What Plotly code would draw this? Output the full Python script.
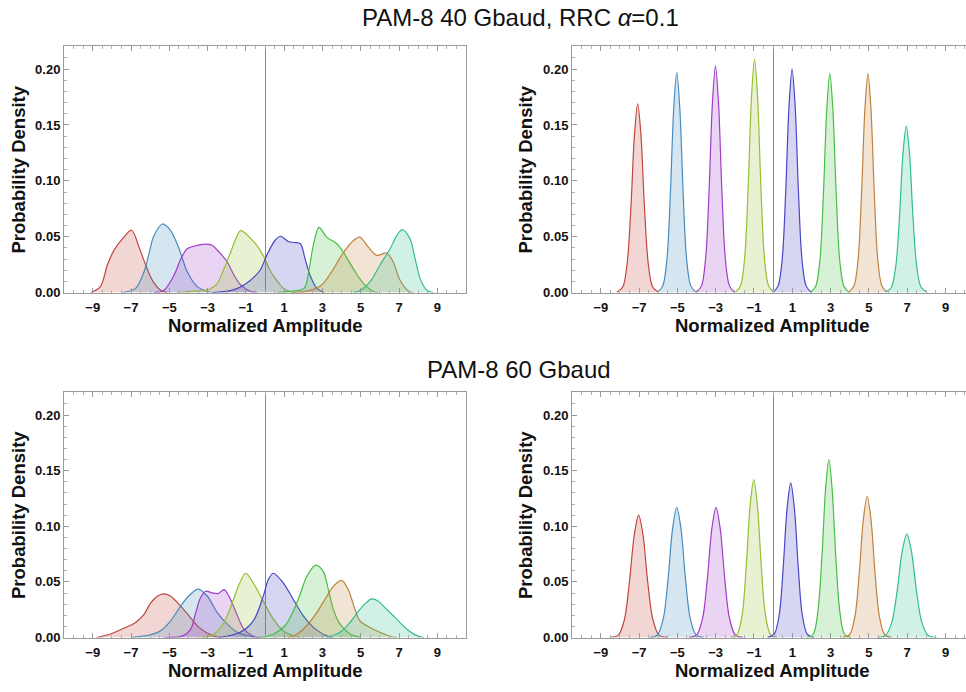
import plotly.graph_objects as go

# ---------------- data ----------------
levels = ["-7", "-5", "-3", "-1", "1", "3", "5", "7"]
colors = ["#BE463C", "#468CBE", "#A03CC8", "#96BE32", "#4646C8", "#46BE46", "#BE823C", "#32BE8C"]

x_tick_vals = [-9, -7, -5, -3, -1, 1, 3, 5, 7, 9]
x_tick_text = ["−9", "−7", "−5", "−3", "−1", "1", "3", "5", "7", "9"]
y_tick_vals = [0.0, 0.05, 0.10, 0.15, 0.20]
y_tick_text = ["0.00", "0.05", "0.10", "0.15", "0.20"]

titles = ["PAM-8 40 Gbaud, RRC <i>α</i>=0.1", "PAM-8 60 Gbaud"]
x_title = "Normalized Amplitude"
y_title = "Probability Density"

# --- top-left panel (40 Gbaud, before equalization) ---
tl_red_x = [-9.1, -8.6, -8.24, -7.89, -7.45, -6.97, -6.58, -6.23, -5.89, -5.45, -5.1]
tl_red_y = [0, 0.0053, 0.0245, 0.0378, 0.048, 0.0558, 0.0407, 0.0245, 0.0112, 0.002, 0]
tl_blue_x = [-7.45, -6.76, -6.32, -6.06, -5.8, -5.35, -4.93, -4.49, -4.06, -3.54, -3.0, -2.6]
tl_blue_y = [0, 0.0038, 0.0186, 0.0348, 0.051, 0.0614, 0.0555, 0.0392, 0.0186, 0.0053, 0.001, 0]
tl_purple_x = [-5.8, -5.28, -4.75, -4.4, -4.06, -3.54, -3.01, -2.75, -2.4, -1.97, -1.62, -1.27, -0.75, -0.4]
tl_purple_y = [0, 0.002, 0.0156, 0.030, 0.0392, 0.0422, 0.0434, 0.0422, 0.0363, 0.0274, 0.0156, 0.0068, 0.001, 0]
tl_olive_x = [-4.6, -3.6, -2.9, -2.5, -2.14, -1.79, -1.53, -1.27, -0.61, -0.26, 0.0, 0.26, 0.61, 0.95, 1.3, 1.6]
tl_olive_y = [0, 0.0015, 0.003, 0.008, 0.0215, 0.0363, 0.048, 0.0555, 0.046, 0.038, 0.030, 0.020, 0.011, 0.004, 0.001, 0]
tl_indigo_x = [-2.7, -1.65, -0.96, -0.26, 0.09, 0.52, 0.82, 1.22, 1.55, 1.85, 2.09, 2.35, 2.7, 3.1]
tl_indigo_y = [0, 0.0024, 0.0083, 0.020, 0.0333, 0.0466, 0.0504, 0.0457, 0.0448, 0.0437, 0.0304, 0.0156, 0.004, 0]
tl_green_x = [0.6, 1.5, 2.05, 2.31, 2.52, 2.82, 3.22, 3.75, 4.09, 4.61, 5.14, 5.66, 5.9]
tl_green_y = [0, 0.0015, 0.004, 0.0215, 0.042, 0.0584, 0.0496, 0.0437, 0.0363, 0.0215, 0.0083, 0.001, 0]
tl_brown_x = [1.4, 2.35, 2.96, 3.48, 4.0, 4.53, 4.94, 5.4, 5.84, 6.36, 6.7, 7.05, 7.49, 7.75]
tl_brown_y = [0, 0.002, 0.0068, 0.0186, 0.0333, 0.0451, 0.0496, 0.0407, 0.0333, 0.0354, 0.0274, 0.0112, 0.0015, 0]
tl_teal_x = [4.6, 5.0, 5.49, 6.0, 6.53, 6.88, 7.17, 7.58, 7.84, 8.1, 8.45, 8.8]
tl_teal_y = [0, 0.002, 0.0097, 0.0245, 0.039, 0.051, 0.0563, 0.048, 0.0304, 0.0127, 0.0021, 0]

# --- top-right panel (40 Gbaud, after equalization) ---
tr_red_x = [-8.16, -7.85, -7.62, -7.42, -7.24, -7.07, -6.90, -6.72, -6.52, -6.29, -5.98]
tr_red_y = [0.0003, 0.005, 0.0262, 0.0774, 0.1411, 0.169, 0.1411, 0.0774, 0.0262, 0.005, 0.0003]
tr_blue_x = [-6.03, -5.76, -5.54, -5.36, -5.19, -5.03, -4.87, -4.70, -4.52, -4.30, -4.03]
tr_blue_y = [0.0003, 0.006, 0.0305, 0.0902, 0.1645, 0.197, 0.1645, 0.0902, 0.0305, 0.006, 0.0003]
tr_purple_x = [-4.01, -3.74, -3.52, -3.34, -3.17, -3.01, -2.85, -2.68, -2.50, -2.28, -2.01]
tr_purple_y = [0.0003, 0.006, 0.0314, 0.093, 0.1695, 0.203, 0.1695, 0.093, 0.0314, 0.006, 0.0003]
tr_olive_x = [-1.97, -1.70, -1.48, -1.30, -1.13, -0.97, -0.81, -0.64, -0.46, -0.24, 0.03]
tr_olive_y = [0.0003, 0.0062, 0.0323, 0.0957, 0.1745, 0.209, 0.1745, 0.0957, 0.0323, 0.0062, 0.0003]
tr_indigo_x = [-0.01, 0.26, 0.48, 0.66, 0.83, 0.99, 1.15, 1.32, 1.50, 1.72, 1.99]
tr_indigo_y = [0.0003, 0.006, 0.031, 0.0916, 0.167, 0.200, 0.167, 0.0916, 0.031, 0.006, 0.0003]
tr_green_x = [1.96, 2.23, 2.45, 2.63, 2.80, 2.96, 3.12, 3.29, 3.47, 3.69, 3.96]
tr_green_y = [0.0003, 0.0059, 0.0303, 0.0898, 0.1637, 0.196, 0.1637, 0.0898, 0.0303, 0.0059, 0.0003]
tr_brown_x = [3.95, 4.22, 4.44, 4.62, 4.79, 4.95, 5.11, 5.28, 5.46, 5.68, 5.95]
tr_brown_y = [0.0003, 0.0059, 0.0303, 0.0898, 0.1637, 0.196, 0.1637, 0.0898, 0.0303, 0.0059, 0.0003]
tr_teal_x = [5.86, 6.17, 6.40, 6.60, 6.78, 6.95, 7.12, 7.30, 7.50, 7.73, 8.04]
tr_teal_y = [0.0003, 0.0045, 0.0232, 0.0682, 0.1244, 0.149, 0.1244, 0.0682, 0.0232, 0.0045, 0.0003]

# --- bottom-left panel (60 Gbaud, before equalization) ---
bl_red_x = [-8.8, -8.06, -7.28, -6.76, -6.32, -5.97, -5.62, -5.31, -4.93, -4.49, -3.97, -3.45, -2.84, -2.3]
bl_red_y = [0, 0.0032, 0.0091, 0.0136, 0.0209, 0.0312, 0.0371, 0.0392, 0.0371, 0.0298, 0.0195, 0.0091, 0.0024, 0]
bl_blue_x = [-7.0, -6.0, -5.45, -4.93, -4.41, -3.95, -3.48, -3.01, -2.49, -1.97, -1.45, -0.75, -0.4]
bl_blue_y = [0, 0.0025, 0.0062, 0.015, 0.0283, 0.038, 0.0436, 0.0371, 0.0224, 0.012, 0.0047, 0.001, 0]
bl_purple_x = [-5.3, -4.3, -3.88, -3.62, -3.37, -3.1, -2.75, -2.45, -2.14, -1.81, -1.45, -1.1, -0.58, -0.2]
bl_purple_y = [0, 0.0015, 0.0076, 0.0224, 0.0357, 0.0416, 0.0401, 0.0395, 0.0431, 0.0347, 0.02, 0.0076, 0.001, 0]
bl_olive_x = [-3.3, -2.67, -2.14, -1.71, -1.36, -1.01, -0.61, -0.09, 0.44, 0.96, 1.48, 1.85]
bl_olive_y = [0, 0.003, 0.0135, 0.0312, 0.0474, 0.0578, 0.049, 0.0327, 0.0165, 0.0059, 0.0018, 0]
bl_indigo_x = [-2.4, -1.3, -0.61, -0.09, 0.17, 0.43, 0.96, 1.48, 2.0, 2.53, 3.05, 3.5]
bl_indigo_y = [0, 0.0047, 0.015, 0.0372, 0.052, 0.0578, 0.049, 0.0342, 0.0195, 0.0091, 0.003, 0]
bl_green_x = [-0.3, 0.43, 1.04, 1.48, 1.83, 2.18, 2.66, 3.05, 3.31, 3.57, 3.92, 4.44, 5.0]
bl_green_y = [0, 0.003, 0.0106, 0.0239, 0.0386, 0.0549, 0.0651, 0.0593, 0.043, 0.0253, 0.012, 0.0032, 0]
bl_brown_x = [1.2, 1.66, 2.18, 2.7, 3.13, 3.57, 4.0, 4.35, 4.7, 4.96, 5.49, 6.0, 6.53, 6.9]
bl_brown_y = [0, 0.003, 0.0106, 0.0224, 0.0342, 0.046, 0.0513, 0.043, 0.0253, 0.015, 0.0091, 0.0047, 0.0012, 0]
bl_teal_x = [3.2, 3.92, 4.44, 4.96, 5.31, 5.57, 5.92, 6.36, 6.88, 7.4, 7.84, 8.3]
bl_teal_y = [0, 0.0047, 0.0135, 0.0253, 0.0318, 0.0348, 0.0327, 0.0253, 0.0165, 0.0077, 0.0024, 0]

# --- bottom-right panel (60 Gbaud, after equalization) ---
br_red_x = [-8.50, -8.08, -7.76, -7.50, -7.25, -7.02, -6.79, -6.55, -6.28, -5.96, -5.54]
br_red_y = [0.0001, 0.0022, 0.0164, 0.0504, 0.0919, 0.110, 0.0919, 0.0504, 0.0164, 0.0022, 0.0001]
br_blue_x = [-6.43, -6.04, -5.73, -5.48, -5.25, -5.03, -4.81, -4.58, -4.33, -4.02, -3.63]
br_blue_y = [0.0001, 0.0023, 0.0174, 0.0536, 0.0977, 0.117, 0.0977, 0.0536, 0.0174, 0.0023, 0.0001]
br_purple_x = [-4.38, -3.99, -3.68, -3.43, -3.20, -2.98, -2.76, -2.53, -2.28, -1.97, -1.58]
br_purple_y = [0.0001, 0.0023, 0.0174, 0.0536, 0.0977, 0.117, 0.0977, 0.0536, 0.0174, 0.0023, 0.0001]
br_olive_x = [-2.22, -1.88, -1.61, -1.40, -1.20, -1.01, -0.82, -0.62, -0.41, -0.14, 0.20]
br_olive_y = [0.0001, 0.0028, 0.0212, 0.065, 0.1186, 0.142, 0.1186, 0.065, 0.0212, 0.0028, 0.0001]
br_indigo_x = [-0.29, 0.05, 0.32, 0.53, 0.73, 0.92, 1.11, 1.31, 1.52, 1.79, 2.13]
br_indigo_y = [0.0001, 0.0028, 0.0207, 0.0637, 0.1161, 0.139, 0.1161, 0.0637, 0.0207, 0.0028, 0.0001]
br_green_x = [1.78, 2.10, 2.34, 2.55, 2.74, 2.91, 3.08, 3.27, 3.48, 3.72, 4.04]
br_green_y = [0.0001, 0.0032, 0.0238, 0.0733, 0.1336, 0.160, 0.1336, 0.0733, 0.0238, 0.0032, 0.0001]
br_brown_x = [3.62, 3.99, 4.27, 4.50, 4.71, 4.91, 5.11, 5.32, 5.55, 5.83, 6.20]
br_brown_y = [0.0001, 0.0025, 0.0189, 0.0582, 0.106, 0.127, 0.106, 0.0582, 0.0189, 0.0025, 0.0001]
br_teal_x = [5.42, 5.86, 6.20, 6.48, 6.74, 6.98, 7.22, 7.48, 7.76, 8.10, 8.54]
br_teal_y = [0.0, 0.0018, 0.0139, 0.0426, 0.0777, 0.093, 0.0777, 0.0426, 0.0139, 0.0018, 0.0]

panels = {
    "tl": [(tl_red_x, tl_red_y), (tl_blue_x, tl_blue_y), (tl_purple_x, tl_purple_y), (tl_olive_x, tl_olive_y),
           (tl_indigo_x, tl_indigo_y), (tl_green_x, tl_green_y), (tl_brown_x, tl_brown_y), (tl_teal_x, tl_teal_y)],
    "tr": [(tr_red_x, tr_red_y), (tr_blue_x, tr_blue_y), (tr_purple_x, tr_purple_y), (tr_olive_x, tr_olive_y),
           (tr_indigo_x, tr_indigo_y), (tr_green_x, tr_green_y), (tr_brown_x, tr_brown_y), (tr_teal_x, tr_teal_y)],
    "bl": [(bl_red_x, bl_red_y), (bl_blue_x, bl_blue_y), (bl_purple_x, bl_purple_y), (bl_olive_x, bl_olive_y),
           (bl_indigo_x, bl_indigo_y), (bl_green_x, bl_green_y), (bl_brown_x, bl_brown_y), (bl_teal_x, bl_teal_y)],
    "br": [(br_red_x, br_red_y), (br_blue_x, br_blue_y), (br_purple_x, br_purple_y), (br_olive_x, br_olive_y),
           (br_indigo_x, br_indigo_y), (br_green_x, br_green_y), (br_brown_x, br_brown_y), (br_teal_x, br_teal_y)],
}

# ---------------- layout geometry ----------------
W, H = 966, 692
layout_spec = {
    "tl": dict(ax=1, xdom=[64 / W, 466 / W], ydom=[1 - 296 / H, 1 - 47 / H], xr=[-10.5, 10.5], right=True),
    "tr": dict(ax=2, xdom=[572 / W, 1.0], ydom=[1 - 296 / H, 1 - 47 / H], xr=[-10.5, 10.07], right=False),
    "bl": dict(ax=3, xdom=[64 / W, 466 / W], ydom=[1 - 645 / H, 1 - 397 / H], xr=[-10.5, 10.5], right=True),
    "br": dict(ax=4, xdom=[572 / W, 1.0], ydom=[1 - 645 / H, 1 - 397 / H], xr=[-10.5, 10.07], right=False),
}


def hex_rgba(h, a):
    h = h.lstrip("#")
    r, g, b = int(h[0:2], 16), int(h[2:4], 16), int(h[4:6], 16)
    return f"rgba({r},{g},{b},{a})"


fig = go.Figure()
FONT = "Liberation Sans, Arial, sans-serif"
frame_col = "#9a9a9a"

for key, curves in panels.items():
    spec = layout_spec[key]
    n = spec["ax"]
    xa = "x" if n == 1 else f"x{n}"
    ya = "y" if n == 1 else f"y{n}"
    for (xs, ys), col, lev in zip(curves, colors, levels):
        fig.add_trace(go.Scatter(
            x=xs, y=ys, xaxis=xa, yaxis=ya, mode="lines",
            line=dict(color=col, width=1.2, shape="spline", smoothing=0.9),
            fill="tozeroy", fillcolor=hex_rgba(col, 0.22),
            name=lev, showlegend=False, hoverinfo="skip"))

    xkey = "xaxis" if n == 1 else f"xaxis{n}"
    ykey = "yaxis" if n == 1 else f"yaxis{n}"
    fig.update_layout({
        xkey: dict(
            domain=spec["xdom"], anchor=ya, range=spec["xr"],
            tickmode="array", tickvals=x_tick_vals, ticktext=x_tick_text,
            ticks="inside", ticklen=5, tickcolor=frame_col, tickwidth=1,
            showline=True, linecolor=frame_col, linewidth=1, mirror="allticks",
            showgrid=False, zeroline=True, zerolinecolor="#8a8a8a", zerolinewidth=1,
            minor=dict(ticks="inside", ticklen=2.5, dtick=0.5, tick0=0, tickcolor="#b0b0b0", showgrid=False),
            tickfont=dict(family=FONT, size=13, color="#111", weight="bold"),
            ticklabelstandoff=3,
            fixedrange=True,
        ),
        ykey: dict(
            domain=spec["ydom"], anchor=xa, range=[0, 0.2203],
            tickmode="array", tickvals=y_tick_vals, ticktext=y_tick_text,
            ticks="inside", ticklen=5, tickcolor=frame_col, tickwidth=1,
            showline=True, linecolor=frame_col, linewidth=1, mirror=spec["right"],
            showgrid=False, zeroline=False,
            minor=dict(ticks="inside", ticklen=2.5, dtick=0.01, tick0=0, tickcolor="#b0b0b0", showgrid=False),
            tickfont=dict(family=FONT, size=13, color="#111", weight="bold"),
            fixedrange=True,
        ),
    })

annotations = [
    dict(text=titles[0], x=520 / W, y=1 - 17.5 / H, xanchor="center", yanchor="middle",
         font=dict(family=FONT, size=24, color="#111")),
    dict(text=titles[1], x=519 / W, y=1 - 373.5 / H, xanchor="center", yanchor="middle",
         font=dict(family=FONT, size=24, color="#111")),
]
for cx, cy in [(265, 329), (772.5, 329), (265, 678), (772.5, 678)]:
    annotations.append(dict(text=x_title, x=cx / W, y=1 - cy / H, xanchor="center", yanchor="middle",
                            font=dict(family=FONT, size=18.5, color="#111", weight="bold")))
for cx, cy in [(19, 171.5), (526, 171.5), (19, 521), (526, 521)]:
    annotations.append(dict(text=y_title, x=cx / W, y=1 - cy / H, xanchor="center", yanchor="middle",
                            textangle=-90,
                            font=dict(family=FONT, size=18.5, color="#111", weight="bold")))
for a in annotations:
    a.update(xref="paper", yref="paper", showarrow=False)

fig.update_layout(
    width=W, height=H, margin=dict(l=0, r=0, t=0, b=0, pad=0),
    paper_bgcolor="white", plot_bgcolor="white",
    annotations=annotations, showlegend=False,
)

fig.write_html("out.html")
